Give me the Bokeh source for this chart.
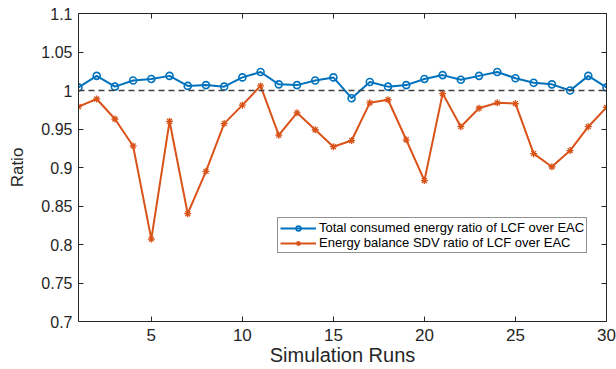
from bokeh.plotting import figure
from bokeh.models import Span, FixedTicker, LinearAxis, Range1d, Legend, LegendItem
from bokeh.embed import file_html
from bokeh.resources import INLINE

runs = list(range(1, 31))
total_energy_ratio = [1.004, 1.019, 1.005, 1.013, 1.015, 1.019, 1.006, 1.007, 1.005, 1.017,
                      1.024, 1.008, 1.007, 1.013, 1.017, 0.990, 1.011, 1.005, 1.007, 1.015,
                      1.020, 1.014, 1.019, 1.024, 1.016, 1.010, 1.008, 1.000, 1.019, 1.004]
sdv_ratio = [0.979, 0.989, 0.963, 0.928, 0.807, 0.960, 0.840, 0.895, 0.957, 0.981,
             1.006, 0.942, 0.971, 0.949, 0.927, 0.935, 0.984, 0.988, 0.936, 0.883,
             0.996, 0.953, 0.977, 0.984, 0.983, 0.918, 0.901, 0.922, 0.953, 0.978]
reference_level = 1.0
x_ticks = [5, 10, 15, 20, 25, 30]
y_ticks = [0.7, 0.75, 0.8, 0.85, 0.9, 0.95, 1.0, 1.05, 1.1]
y_tick_labels = ["0.7", "0.75", "0.8", "0.85", "0.9", "0.95", "1", "1.05", "1.1"]
label_total = "Total consumed energy ratio of LCF over EAC"
label_sdv = "Energy balance SDV ratio of LCF over EAC"

BLUE = "#0072BD"
ORANGE = "#D95319"
AX = "#262626"
FONT = "Liberation Sans"

p = figure(width=616, height=369, output_backend="svg", toolbar_location=None,
           x_range=Range1d(1, 30), y_range=Range1d(0.7, 1.1),
           min_border_left=78, min_border_right=10, min_border_top=13, min_border_bottom=48)
p.grid.visible = False
p.outline_line_color = None
p.background_fill_color = "white"
p.border_fill_color = "white"

span = Span(location=reference_level, dimension="width", line_color="#404040",
            line_dash="6 4", line_width=1.5)
p.add_layout(span)

l1 = p.line(runs, total_energy_ratio, line_color=BLUE, line_width=2)
s1 = p.scatter(runs, total_energy_ratio, marker="circle", size=7, line_color=BLUE,
               fill_color=None, line_width=1.6)
l2 = p.line(runs, sdv_ratio, line_color=ORANGE, line_width=2)
s2 = p.scatter(runs, sdv_ratio, marker="asterisk", size=7, line_color=ORANGE, line_width=1.3)

def style_axis(ax, show_labels=True):
    ax.axis_line_color = AX
    ax.major_tick_line_color = AX
    ax.major_tick_in = 5
    ax.major_tick_out = 0
    ax.minor_tick_line_color = None
    ax.major_label_text_color = AX
    ax.major_label_text_font = FONT
    ax.axis_label_text_font = FONT
    ax.axis_label_text_font_style = "normal"
    ax.axis_label_text_color = AX
    if not show_labels:
        ax.major_label_text_color = None
        ax.major_label_text_font_size = "0px"
        ax.major_label_standoff = 0

xa = p.xaxis[0]
ya = p.yaxis[0]
style_axis(xa)
style_axis(ya)
xa.ticker = FixedTicker(ticks=x_ticks)
ya.ticker = FixedTicker(ticks=y_ticks)
ya.major_label_overrides = {t: s for t, s in zip(y_ticks, y_tick_labels)}
xa.major_label_text_font_size = "17px"
ya.major_label_text_font_size = "16px"
xa.axis_label = "Simulation Runs"
ya.axis_label = "Ratio"
xa.axis_label_text_font_size = "20px"
ya.axis_label_text_font_size = "17px"
xa.major_label_standoff = 7
xa.axis_label_standoff = 0
ya.major_label_standoff = 6
ya.axis_label_standoff = 11

ra = LinearAxis(ticker=FixedTicker(ticks=y_ticks))
style_axis(ra, show_labels=False)
p.add_layout(ra, "right")
ta = LinearAxis(ticker=FixedTicker(ticks=x_ticks))
style_axis(ta, show_labels=False)
p.add_layout(ta, "above")

legend = Legend(items=[LegendItem(label=label_total, renderers=[l1, s1]),
                       LegendItem(label=label_sdv, renderers=[l2, s2])],
                location=(199, 68))
legend.label_text_font = FONT
legend.label_text_font_size = "13px"
legend.label_text_color = "black"
legend.label_height = 12
legend.glyph_height = 12
legend.glyph_width = 36
legend.label_standoff = 3
legend.spacing = -3
legend.padding = 2
legend.margin = 0
legend.border_line_color = AX
legend.border_line_width = 1
legend.background_fill_color = "white"
legend.background_fill_alpha = 1
p.add_layout(legend, "center")

open("out.html", "w").write(file_html(p, INLINE))
